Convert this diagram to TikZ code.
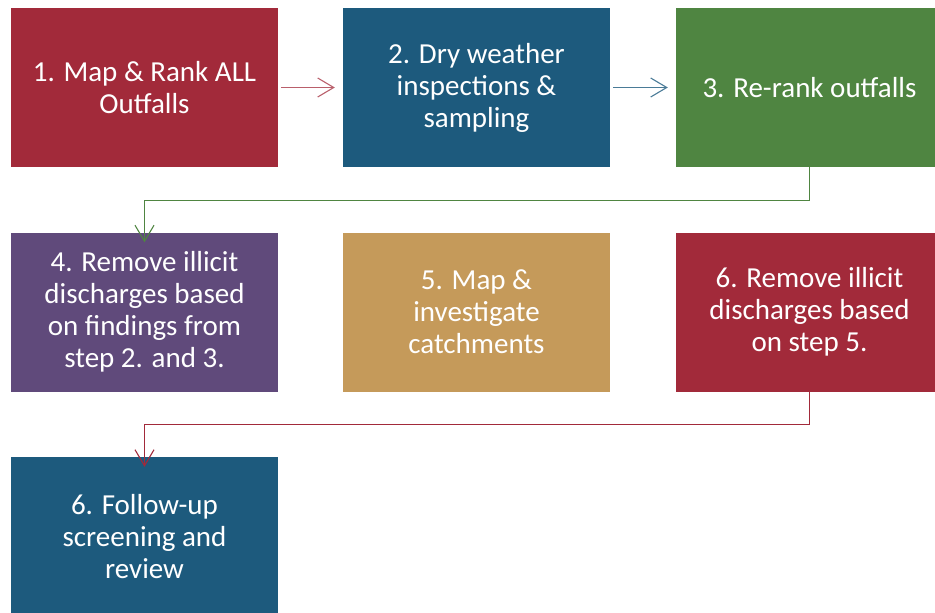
\documentclass[tikz,border=0pt]{standalone}
\usepackage{fontspec}
\setmainfont{Carlito}
\usetikzlibrary{arrows.meta}
\definecolor{cred}{HTML}{A22A3A}
\definecolor{cblue}{HTML}{1D5A7D}
\definecolor{cgreen}{HTML}{4F8541}
\definecolor{cpurple}{HTML}{604A7B}
\definecolor{ctan}{HTML}{C59A5A}
\tikzset{
  stepbox/.style={rectangle, inner sep=0pt, minimum width=267pt, minimum height=159pt,
    text=white, align=center, font=\fontsize{29}{32}\selectfont},
  flow/.style={line width=1.1pt, -{Straight Barb[length=16pt,width=19pt,line width=1.1pt]}},
}
\begin{document}
\begin{tikzpicture}[x=1pt,y=-1pt]
\useasboundingbox (0,0) rectangle (935,613);
\node[stepbox, fill=cred]    (b1) at (144.5,87.5) {1. Map \& Rank ALL\\Outfalls};
\node[stepbox, fill=cblue]   (b2) at (476.5,87.5) {2. Dry weather\\inspections \&\\sampling};
\node[stepbox, fill=cgreen]  (b3) at (809.5,87.5) {3. Re-rank outfalls};
\node[stepbox, fill=cpurple] (b4) at (144.5,312) {4. Remove illicit\\discharges based\\on findings from\\step 2. and 3.};
\node[stepbox, fill=ctan]    (b5) at (476.5,312) {5. Map \&\\investigate\\catchments};
\node[stepbox, fill=cred]    (b6) at (809.5,312) {6. Remove illicit\\discharges based\\on step 5.};
\node[stepbox, fill=cblue]   (b7) at (144.5,536.5) {6. Follow-up\\screening and\\review};
\draw[flow, color=cred!75]   ([xshift=3pt]b1.east) -- ([xshift=-8pt]b2.west);
\draw[flow, color=cblue!80]  ([xshift=3pt]b2.east) -- ([xshift=-8pt]b3.west);
\draw[flow, color=cgreen]    ([yshift=3pt]b3.south) -- ++(0,36) -| ([yshift=-10pt]b4.north);
\draw[flow, color=cred]      ([yshift=3pt]b6.south) -- ++(0,36) -| ([yshift=-10pt]b7.north);
\end{tikzpicture}
\end{document}
